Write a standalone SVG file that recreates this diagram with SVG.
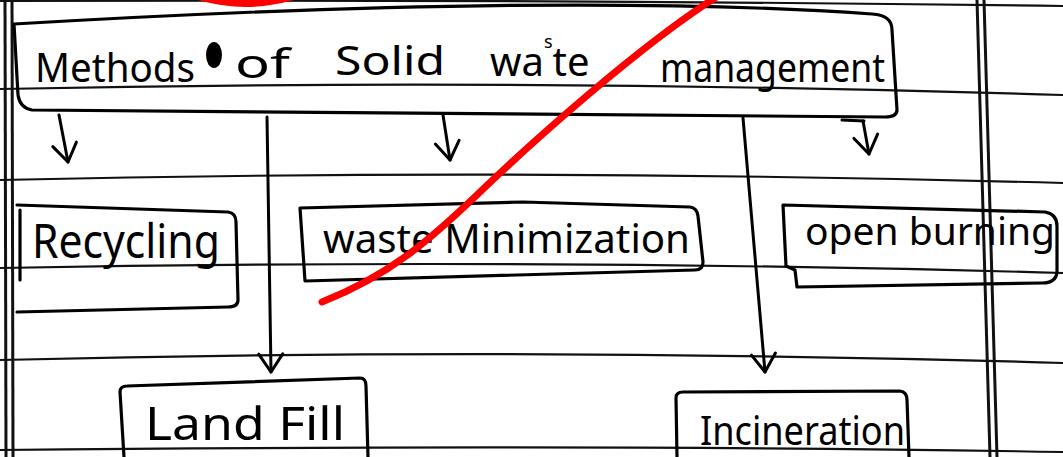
<svg xmlns="http://www.w3.org/2000/svg" width="1063" height="457" viewBox="0 0 1063 457">
<style>
.rule{fill:none;stroke:#111;stroke-width:2.2}
.margin{fill:none;stroke:#111;stroke-width:3}
.box{fill:none;stroke:#000;stroke-width:3.2;stroke-linejoin:round;stroke-linecap:round}
.con{fill:none;stroke:#000;stroke-width:3;stroke-linecap:round}
.t{font-family:"Noto Sans","DejaVu Sans",sans-serif;fill:#000}
.red{fill:none;stroke:#f00;stroke-width:7;stroke-linecap:round}
</style>
<defs>
<marker id="vh" markerUnits="userSpaceOnUse" viewBox="-2 -2 24 28" refX="18" refY="12" markerWidth="24" markerHeight="28" orient="auto" overflow="visible">
<path d="M0,0 L18,12 L0,24" fill="none" stroke="#000" stroke-width="3" stroke-linejoin="round" stroke-linecap="round"/>
</marker>
</defs>
<rect width="1063" height="457" fill="#fff"/>
<g id="paper">
<path class="rule" d="M0,1 Q530,-1 1063,6"/>
<path class="rule" d="M0,89 Q520,78 1063,95"/>
<path class="rule" d="M0,180 Q520,168 1063,183"/>
<path class="rule" d="M0,268 Q540,258 1063,273"/>
<path class="rule" d="M0,360 Q520,347 1063,363"/>
<path class="rule" d="M0,450 Q600,444 1063,452"/>
<path class="margin" d="M5,0 L6,457"/>
<path class="margin" d="M12,0 L13,457"/>
<path class="margin" d="M977,0 L990,457"/>
<path class="margin" d="M984,0 L997,457"/>
</g>
<g id="connectors">
<path class="con" d="M59,115 L68,162" marker-end="url(#vh)"/>
<path class="con" d="M267,117 L271,372" marker-end="url(#vh)"/>
<path class="con" d="M443,115 L450,160" marker-end="url(#vh)"/>
<path class="con" d="M743,118 L765,372" marker-end="url(#vh)"/>
<path class="con" d="M842,120 L864,121"/>
<path class="con" d="M863,121 L869,154" marker-end="url(#vh)"/>
</g>
<g id="n-root">
<path class="box" d="M14,24 Q560,-8 872,14 Q892,15 892,30 L897,110 Q897,117 885,117 L32,110 Q20,108 18,95 Z"/>
<text class="t" x="35" y="82" font-size="40" textLength="160" lengthAdjust="spacingAndGlyphs">Methods</text>
<ellipse cx="214" cy="55" rx="8" ry="13" fill="#000"/>
<text class="t" x="235" y="78" font-size="40" textLength="55" lengthAdjust="spacingAndGlyphs">of</text>
<text class="t" x="335" y="75" font-size="40" textLength="110" lengthAdjust="spacingAndGlyphs">Solid</text>
<text class="t" x="490" y="76" font-size="40">wa<tspan font-size="18" dy="-28">s</tspan><tspan dy="28">te</tspan></text>
<text class="t" x="660" y="82" font-size="40" textLength="225" lengthAdjust="spacingAndGlyphs">management</text>
</g>
<g id="n-recycling">
<path class="box" d="M17,205 L228,212 Q236,213 236,222 L238,300 Q238,307 228,307 L17,312"/>
<path class="box" d="M20,210 L20,280"/>
<text class="t" x="32" y="258" font-size="48" textLength="188" lengthAdjust="spacingAndGlyphs">Recycling</text>
</g>
<g id="n-minimization">
<path class="box" d="M300,208 L523,202 L690,207 Q697,208 698,216 L703,262 Q703,270 695,270 L305,281 Z"/>
<text class="t" x="323" y="253" font-size="40" textLength="367" lengthAdjust="spacingAndGlyphs">waste Minimization</text>
</g>
<g id="n-burning">
<path class="box" d="M783,205 L1045,212 Q1057,214 1057,226 L1057,272 Q1056,283 1042,283 L797,287 L795,270 L786,266 Z"/>
<text class="t" x="805" y="245" font-size="38" textLength="250" lengthAdjust="spacingAndGlyphs">open burning</text>
</g>
<g id="n-landfill">
<path class="box" d="M124,457 L120,392 Q120,386 127,386 L360,378 Q366,378 366,386 L368,457"/>
<text class="t" x="145" y="440" font-size="46" textLength="200" lengthAdjust="spacingAndGlyphs">Land Fill</text>
</g>
<g id="n-incineration">
<path class="box" d="M677,457 L676,398 Q676,392 683,392 L900,391 Q907,392 907,400 L909,457"/>
<text class="t" x="700" y="445" font-size="40" textLength="205" lengthAdjust="spacingAndGlyphs">Incineration</text>
</g>
<g id="mark">
<path class="red" d="M322,302 C390,275 430,240 480,192 S640,45 718,-4"/>
<path class="red" d="M200,-3 Q245,10 292,-3"/>
</g>
</svg>
